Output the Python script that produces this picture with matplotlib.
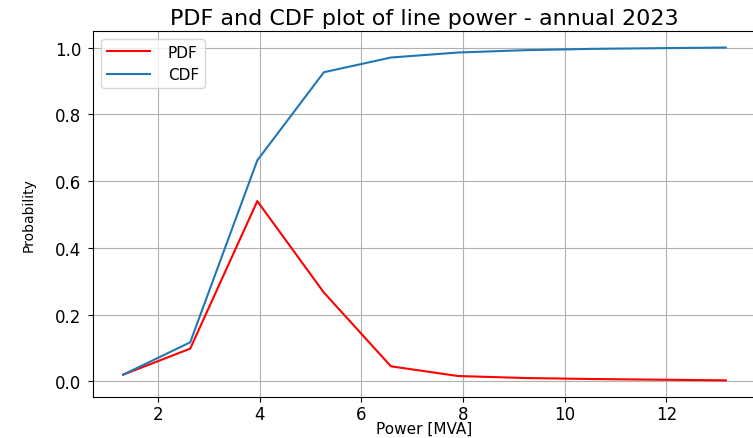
import matplotlib
matplotlib.use("Agg")
import matplotlib.pyplot as plt

# bin centres [MVA]
power = [1.31, 2.63, 3.95, 5.26, 6.58, 7.90, 9.22, 10.54, 11.85, 13.17]
pdf = [0.020, 0.098, 0.540, 0.266, 0.045, 0.016, 0.010, 0.007, 0.005, 0.003]
cdf = [0.020, 0.117, 0.662, 0.926, 0.970, 0.985, 0.992, 0.996, 0.998, 1.000]

fig = plt.figure(figsize=(7.53, 4.39), dpi=100)
ax = fig.add_axes([93 / 753, 0.0934, (756 - 93) / 753, 0.834])

ax.plot(power, pdf, color="red", label="PDF")
ax.plot(power, cdf, color="#1f77b4", label="CDF")

ax.set_title("PDF and CDF plot of line power - annual 2023", fontsize=16, pad=5)
ax.set_xlabel("Power [MVA]", fontsize=11, labelpad=-1)
ax.set_ylabel("Probability", fontsize=10, labelpad=14)
ax.tick_params(axis="y", labelsize=12, pad=5)
ax.tick_params(axis="x", labelsize=12, pad=2)
ax.grid(True)
ax.legend(loc="upper left", fontsize=11, handlelength=2.8, handletextpad=1.2)

fig.savefig("out.png", dpi=100)
